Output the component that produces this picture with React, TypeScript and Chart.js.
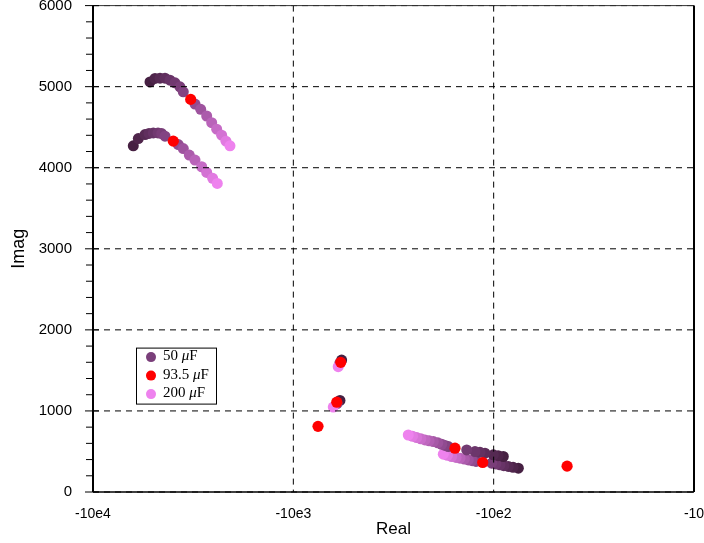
import React, { useEffect, useRef } from 'react';
import { Chart, registerables } from 'chart.js';

Chart.register(...registerables);

// Eigenvalue loci ([real, imag]) while the capacitance sweeps 50 µF -> 200 µF
const upperArc: [number, number][] = [
  [-5194, 5059], [-4904, 5101], [-4630, 5104], [-4370, 5104], [-4127, 5080],
  [-3897, 5047], [-3681, 4998], [-3543, 4936], [-3096, 4785], [-2900, 4720],
  [-2707, 4638], [-2556, 4556], [-2413, 4475], [-2279, 4401], [-2169, 4328], [-2071, 4270],
];
const lowerArc: [number, number][] = [
  [-6293, 4270], [-5940, 4360], [-5501, 4409], [-5254, 4423], [-5000, 4429], [-4738, 4429],
  [-4542, 4421], [-4370, 4389], [-3752, 4286], [-3543, 4237], [-3306, 4156], [-3096, 4095],
  [-2867, 4012], [-2707, 3942], [-2527, 3869], [-2397, 3807],
];
const clusterHigh: [number, number][] = [[-574, 1628], [-586, 1590], [-597, 1546]];
const clusterLow: [number, number][] = [[-585, 1129], [-605, 1090], [-632, 1047]];
const slowUpper: [number, number][] = [
  [-89.5, 438], [-95, 448], [-100.4, 458], [-110.5, 479], [-117, 489], [-123.9, 499],
  [-136.3, 519], [-168.4, 561], [-175, 575], [-181.7, 589], [-190, 606], [-200.1, 622],
  [-210, 632], [-220.1, 642], [-231, 657], [-242.3, 671], [-254, 687], [-266.8, 703],
];
const slowLower: [number, number][] = [
  [-75.3, 294], [-80, 305], [-84.5, 315], [-89, 325], [-93, 335], [-97.5, 346], [-102.3, 356],
  [-122.5, 377], [-128, 386], [-133.8, 396], [-140, 406], [-147.2, 417], [-154, 427],
  [-162, 438], [-170, 452], [-178.4, 466],
];
// Eigenvalues at the 93.5 µF operating point
const nominal: [number, number][] = [
  [-3253, 4843], [-3974, 4328], [-580, 1599], [-607, 1108], [-753, 810],
  [-156, 540], [-113.4, 364], [-43, 319],
];

const legendLabels = ['50 μF', '93.5 μF', '200 μF'];
const legendColors = ['#7a3f7a', '#ff0000', '#ee82ee'];
const X_TICKS = [10000, 1000, 100, 10];
const X_GRID = [1000, 100];
const Y_TICKS = [0, 1000, 2000, 3000, 4000, 5000, 6000];
const Y_MINOR_STEP = 200;

const GRADIENT: [number, [number, number, number]][] = [
  [0, [0x46, 0x20, 0x42]],
  [0.45, [0x80, 0x42, 0x80]],
  [1, [0xee, 0x82, 0xee]],
];
function gradColor(t: number): string {
  for (let i = 1; i < GRADIENT.length; i++) {
    const [t1, c1] = GRADIENT[i];
    const [t0, c0] = GRADIENT[i - 1];
    if (t <= t1) {
      const f = (t - t0) / (t1 - t0);
      const c = c0.map((v, k) => Math.round(v + (c1[k] - v) * f));
      return `rgb(${c[0]},${c[1]},${c[2]})`;
    }
  }
  return '#ee82ee';
}

function sweepDataset(pts: [number, number][]) {
  const n = pts.length;
  return {
    data: pts.map(([re, im]) => ({ x: -re, y: im })),
    pointBackgroundColor: pts.map((_, i) => gradColor(n > 1 ? i / (n - 1) : 0)),
    pointBorderWidth: 0,
    pointRadius: 5.5,
    showLine: false,
    order: 1,
  };
}

const framePlugin = {
  id: 'frame',
  afterDatasetsDraw(chart: any) {
    const { ctx, chartArea: a, scales } = chart;
    const x = scales.x;
    const y = scales.y;
    const line = (x1: number, y1: number, x2: number, y2: number) => {
      ctx.beginPath();
      ctx.moveTo(x1, y1);
      ctx.lineTo(x2, y2);
      ctx.stroke();
    };
    ctx.save();
    ctx.strokeStyle = '#000';
    ctx.lineWidth = 1;
    ctx.setLineDash([6, 5]);
    for (const v of Y_TICKS) {
      const py = y.getPixelForValue(v);
      line(a.left, py, a.right, py);
    }
    for (const v of X_GRID) {
      const px = x.getPixelForValue(v);
      line(px, a.top, px, a.bottom);
    }
    ctx.setLineDash([]);
    ctx.lineWidth = 1;
    ctx.strokeStyle = '#333';
    line(a.left, a.top, a.right, a.top);
    ctx.strokeStyle = '#000';
    ctx.lineWidth = 2;
    line(a.left, a.top, a.left, a.bottom);
    line(a.right, a.top, a.right, a.bottom);
    ctx.lineWidth = 1.5;
    line(a.left, a.bottom, a.right, a.bottom);
    ctx.lineWidth = 1;
    for (let v = 0; v <= 6000; v += Y_MINOR_STEP) {
      const py = y.getPixelForValue(v);
      if (v % 1000 === 0) line(a.left - 8, py, a.left + 6, py);
      else line(a.left - 7, py, a.left, py);
    }
    ctx.restore();
  },
};

const legendPlugin = {
  id: 'boxLegend',
  afterDraw(chart: any) {
    const { ctx, chartArea: a } = chart;
    const bx = a.left + 43.5;
    const by = a.top + 342.5;
    const bw = 80;
    const bh = 56;
    ctx.save();
    ctx.fillStyle = '#fff';
    ctx.fillRect(bx, by, bw, bh);
    ctx.strokeStyle = '#000';
    ctx.lineWidth = 1;
    ctx.strokeRect(bx, by, bw, bh);
    legendLabels.forEach((label, i) => {
      const cy = by + 9 + i * 18.5;
      ctx.fillStyle = legendColors[i];
      ctx.beginPath();
      ctx.arc(bx + 14.5, cy, 5, 0, Math.PI * 2);
      ctx.fill();
      const [pre, post] = label.split('μ');
      let tx = bx + 26.5;
      const base = cy + 3;
      ctx.fillStyle = '#000';
      ctx.textBaseline = 'alphabetic';
      ctx.font = '15px "Liberation Serif"';
      ctx.fillText(pre, tx, base);
      tx += ctx.measureText(pre).width;
      ctx.font = 'italic 15px "Liberation Serif"';
      ctx.fillText('μ', tx, base);
      tx += ctx.measureText('μ').width;
      ctx.font = '15px "Liberation Serif"';
      ctx.fillText(post, tx, base);
    });
    ctx.restore();
  },
};

export default function App() {
  const ref = useRef<HTMLCanvasElement | null>(null);
  useEffect(() => {
    if (!ref.current) return;
    const chart = new Chart(ref.current, {
      type: 'scatter',
      data: {
        datasets: [
          {
            data: nominal.map(([re, im]) => ({ x: -re, y: im })),
            pointBackgroundColor: '#ff0000',
            pointBorderWidth: 0,
            pointRadius: 5.6,
            showLine: false,
            order: 0,
          },
          sweepDataset(upperArc),
          sweepDataset(lowerArc),
          sweepDataset(clusterHigh),
          sweepDataset(clusterLow),
          sweepDataset(slowUpper),
          sweepDataset(slowLower),
        ] as any,
      },
      options: {
        responsive: false,
        animation: false,
        events: [],
        layout: { padding: { top: 3, right: 10, left: 0, bottom: 0 } },
        plugins: { legend: { display: false }, tooltip: { enabled: false } },
        scales: {
          x: {
            type: 'logarithmic',
            reverse: true,
            min: 10,
            max: 10000,
            afterBuildTicks: (s: any) => {
              s.ticks = X_TICKS.map((v) => ({ value: v }));
            },
            afterFit: (s: any) => {
              s.height = 51;
              s.paddingLeft = 0;
              s.paddingRight = 0;
            },
            grid: { display: false },
            border: { display: false },
            ticks: {
              autoSkip: false,
              maxRotation: 0,
              padding: 6,
              color: '#000',
              font: { family: '"Liberation Sans", Arial, sans-serif', size: 14 },
              callback: (v: any) => {
                const e = Math.round(Math.log10(Number(v)));
                return e === 1 ? '-10' : '-10e' + e;
              },
            },
            title: {
              display: true,
              text: 'Real',
              color: '#000',
              font: { family: '"Liberation Sans", Arial, sans-serif', size: 17 },
              padding: { top: 0, bottom: 3 },
            },
          },
          y: {
            type: 'linear',
            min: 0,
            max: 6000,
            afterBuildTicks: (s: any) => {
              s.ticks = Y_TICKS.map((v) => ({ value: v }));
            },
            afterFit: (s: any) => {
              s.width = 93;
              s.paddingTop = 0;
              s.paddingBottom = 0;
            },
            grid: { display: false },
            border: { display: false },
            ticks: {
              padding: 13,
              color: '#000',
              font: { family: '"Liberation Sans", Arial, sans-serif', size: 15 },
              callback: (v: any) => String(v),
            },
            title: {
              display: true,
              text: 'Imag',
              color: '#000',
              font: { family: '"Liberation Sans", Arial, sans-serif', size: 18 },
              padding: { top: 8, bottom: 0 },
            },
          },
        },
      } as any,
      plugins: [framePlugin, legendPlugin],
    });
    return () => chart.destroy();
  }, []);
  return (
    <div style={{ position: 'absolute', left: 0, top: 0, width: 704, height: 543, background: '#fff' }}>
      <canvas ref={ref} width={704} height={543} />
    </div>
  );
}
